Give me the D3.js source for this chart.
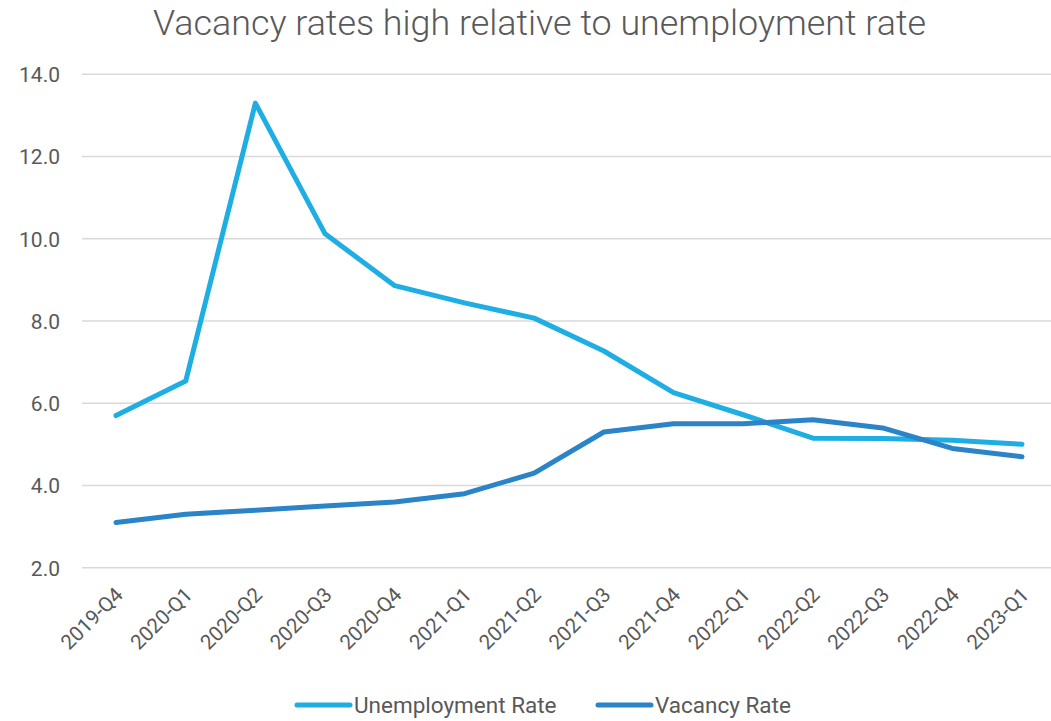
<!DOCTYPE html>
<html>
<head>
<meta charset="utf-8">
<script src="https://cdn.jsdelivr.net/npm/d3@7"></script>
<style>
  html, body { margin: 0; padding: 0; background: #fff; }
  svg { display: block; }
  text { font-family: Roboto, "Liberation Sans", sans-serif; fill: #595959; }
</style>
</head>
<body>
<svg id="chart" width="1051" height="721"></svg>
<script>
// Quarterly labour-market rates (%)
const quarters = ["2019-Q4","2020-Q1","2020-Q2","2020-Q3","2020-Q4","2021-Q1","2021-Q2",
                  "2021-Q3","2021-Q4","2022-Q1","2022-Q2","2022-Q3","2022-Q4","2023-Q1"];
const unemploymentRate = [5.7, 6.54, 13.3, 10.12, 8.86, 8.44, 8.07, 7.27, 6.26, 5.72, 5.15, 5.14, 5.1, 5.0];
const vacancyRate      = [3.1, 3.3, 3.4, 3.5, 3.6, 3.8, 4.3, 5.3, 5.5, 5.5, 5.6, 5.4, 4.9, 4.7];
const yTicks = [2, 4, 6, 8, 10, 12, 14];

const seriesNames  = ["Unemployment Rate", "Vacancy Rate"];
const seriesColors = ["#1EAEE4", "#2A84C7"];

const svg = d3.select("#chart");

const x = d3.scalePoint().domain(quarters).range([116, 1022]);
const y = d3.scaleLinear().domain([2, 14]).range([567.7, 74.3]);

// Title (condensed face)
svg.append("text")
  .attr("x", 153).attr("y", 35)
  .attr("textLength", 773).attr("lengthAdjust", "spacingAndGlyphs")
  .style("font-size", "35px")
  .style("font-weight", 300)
  .text("Vacancy rates high relative to unemployment rate");

// Horizontal gridlines
svg.append("g")
  .selectAll("line")
  .data(yTicks)
  .join("line")
  .attr("x1", 82).attr("x2", 1051)
  .attr("y1", d => y(d)).attr("y2", d => y(d))
  .attr("stroke", "#D9D9D9").attr("stroke-width", 1.5);

// Y axis labels
const yAxis = d3.axisLeft(y).tickValues(yTicks).tickFormat(d3.format(".1f")).tickSize(0).tickPadding(0);
svg.append("g")
  .attr("transform", "translate(60,0)")
  .call(yAxis)
  .call(g => g.select(".domain").remove())
  .call(g => g.selectAll("text")
    .style("font-size", "21px").style("fill", "#595959")
    .attr("font-family", null).attr("dy", "0.35em"));

// X axis labels, rotated
const xAxis = d3.axisBottom(x).tickSize(0).tickPadding(0);
svg.append("g")
  .call(xAxis)
  .call(g => g.select(".domain").remove())
  .call(g => g.selectAll(".tick")
    .attr("transform", d => `translate(${x(d) + 3},591)`))
  .call(g => g.selectAll("text")
    .attr("y", 0).attr("dy", "0.35em")
    .attr("transform", "rotate(-45)")
    .attr("text-anchor", "end")
    .attr("font-family", null)
    .style("font-size", "20.5px").style("fill", "#595959"));

// Series lines
const line = d3.line()
  .x((d, i) => x(quarters[i]))
  .y(d => y(d));

[unemploymentRate, vacancyRate].forEach((vals, k) => {
  svg.append("path")
    .datum(vals)
    .attr("d", line)
    .attr("fill", "none")
    .attr("stroke", seriesColors[k])
    .attr("stroke-width", 5)
    .attr("stroke-linejoin", "round")
    .attr("stroke-linecap", "round");
});

// Legend
const legendX = [297, 598];
const legend = svg.append("g");
seriesNames.forEach((name, k) => {
  legend.append("line")
    .attr("x1", legendX[k]).attr("x2", legendX[k] + 53)
    .attr("y1", 705).attr("y2", 705)
    .attr("stroke", seriesColors[k]).attr("stroke-width", 5)
    .attr("stroke-linecap", "round");
  legend.append("text")
    .attr("x", legendX[k] + 57).attr("y", 705)
    .attr("dy", "0.35em")
    .style("font-size", "22.5px")
    .text(name);
});
</script>
</body>
</html>
